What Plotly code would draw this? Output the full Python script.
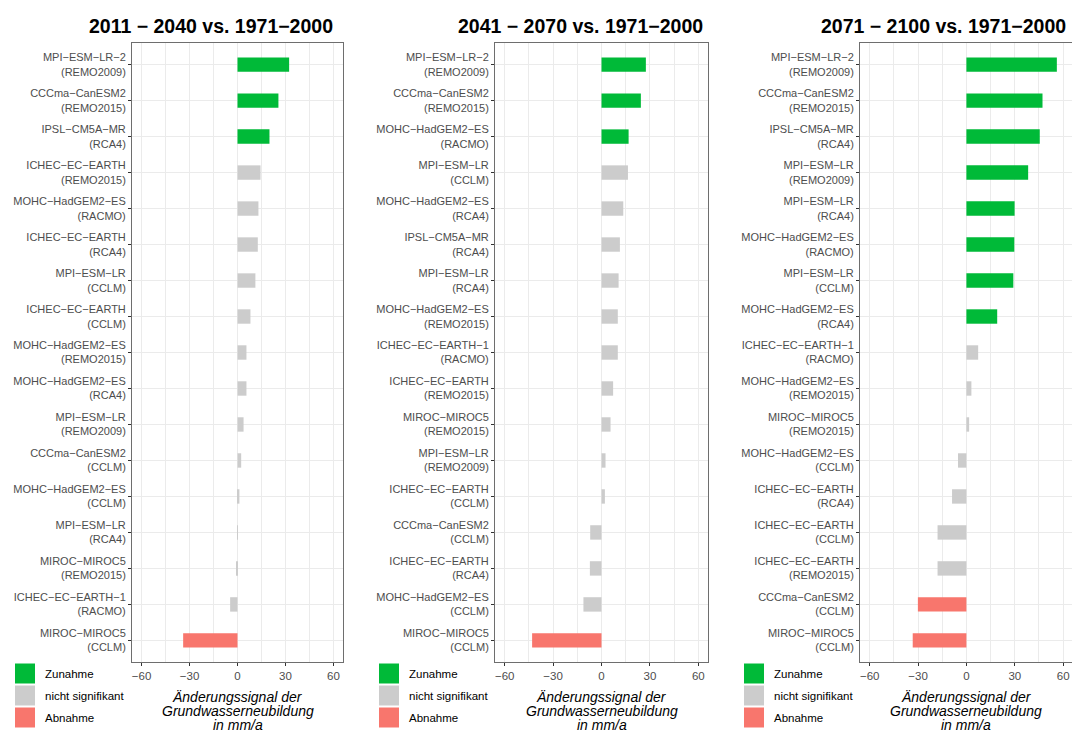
import plotly.graph_objects as go

# ---------------- data ----------------
titles = ["2011 − 2040 vs. 1971−2000", "2041 − 2070 vs. 1971−2000", "2071 − 2100 vs. 1971−2000"]

p1_labels = ["MPI-ESM-LR-2 (REMO2009)", "CCCma-CanESM2 (REMO2015)", "IPSL-CM5A-MR (RCA4)",
             "ICHEC-EC-EARTH (REMO2015)", "MOHC-HadGEM2-ES (RACMO)", "ICHEC-EC-EARTH (RCA4)",
             "MPI-ESM-LR (CCLM)", "ICHEC-EC-EARTH (CCLM)", "MOHC-HadGEM2-ES (REMO2015)",
             "MOHC-HadGEM2-ES (RCA4)", "MPI-ESM-LR (REMO2009)", "CCCma-CanESM2 (CCLM)",
             "MOHC-HadGEM2-ES (CCLM)", "MPI-ESM-LR (RCA4)", "MIROC-MIROC5 (REMO2015)",
             "ICHEC-EC-EARTH-1 (RACMO)", "MIROC-MIROC5 (CCLM)"]
p1_values = [32.3, 25.6, 20.0, 14.4, 13.1, 12.7, 11.2, 8.1, 5.6, 5.6, 3.8, 2.3, 1.2, 0.1, -0.6, -4.6, -34.0]
p1_signal = ["Z", "Z", "Z", "N", "N", "N", "N", "N", "N", "N", "N", "N", "N", "N", "N", "N", "A"]

p2_labels = ["MPI-ESM-LR-2 (REMO2009)", "CCCma-CanESM2 (REMO2015)", "MOHC-HadGEM2-ES (RACMO)",
             "MPI-ESM-LR (CCLM)", "MOHC-HadGEM2-ES (RCA4)", "IPSL-CM5A-MR (RCA4)",
             "MPI-ESM-LR (RCA4)", "MOHC-HadGEM2-ES (REMO2015)", "ICHEC-EC-EARTH-1 (RACMO)",
             "ICHEC-EC-EARTH (REMO2015)", "MIROC-MIROC5 (REMO2015)", "MPI-ESM-LR (REMO2009)",
             "ICHEC-EC-EARTH (CCLM)", "CCCma-CanESM2 (CCLM)", "ICHEC-EC-EARTH (RCA4)",
             "MOHC-HadGEM2-ES (CCLM)", "MIROC-MIROC5 (CCLM)"]
p2_values = [27.5, 24.4, 16.8, 16.4, 13.5, 11.4, 10.6, 10.1, 10.1, 7.2, 5.6, 2.5, 2.1, -7.0, -7.2, -11.2, -43.0]
p2_signal = ["Z", "Z", "Z", "N", "N", "N", "N", "N", "N", "N", "N", "N", "N", "N", "N", "N", "A"]

p3_labels = ["MPI-ESM-LR-2 (REMO2009)", "CCCma-CanESM2 (REMO2015)", "IPSL-CM5A-MR (RCA4)",
             "MPI-ESM-LR (REMO2009)", "MPI-ESM-LR (RCA4)", "MOHC-HadGEM2-ES (RACMO)",
             "MPI-ESM-LR (CCLM)", "MOHC-HadGEM2-ES (RCA4)", "ICHEC-EC-EARTH-1 (RACMO)",
             "MOHC-HadGEM2-ES (REMO2015)", "MIROC-MIROC5 (REMO2015)", "MOHC-HadGEM2-ES (CCLM)",
             "ICHEC-EC-EARTH (RCA4)", "ICHEC-EC-EARTH (CCLM)", "ICHEC-EC-EARTH (REMO2015)",
             "CCCma-CanESM2 (CCLM)", "MIROC-MIROC5 (CCLM)"]
p3_values = [56.1, 47.2, 45.5, 38.3, 29.9, 29.7, 29.1, 19.1, 7.3, 3.1, 1.7, -5.2, -8.9, -17.9, -17.9, -30.1, -33.3]
p3_signal = ["Z", "Z", "Z", "Z", "Z", "Z", "Z", "Z", "N", "N", "N", "N", "N", "N", "N", "A", "A"]

legend_keys = ["Z", "N", "A"]
legend_texts = ["Zunahme", "nicht signifikant", "Abnahme"]
x_ticks = [-60, -30, 0, 30, 60]
axis_title_lines = ["Änderungssignal der", "Grundwasserneubildung", "in mm/a"]

# ---------------- style ----------------
W, H = 1072, 733
COLORS = {"Z": "#00BA38", "N": "#CCCCCC", "A": "#F8766D"}
FONT = "Liberation Sans, Arial, sans-serif"
GRID = "#EBEBEB"
BORDER = "#6E6E6E"

panels = [(p1_labels, p1_values, p1_signal), (p2_labels, p2_values, p2_signal), (p3_labels, p3_values, p3_signal)]
x_px = [(132, 343), (495, 708), (860, 1072)]
x_ranges = [[-66, 66], [-66, 66], [-66, 65.5]]
legend_x = [15, 379, 744]
title_cx = [210.5, 580, 943.5]
y_top, y_bot = 43, 662


def fx(px):
    return px / W


def fy(py):
    return 1 - py / H


def disp(lbl):
    return lbl.replace("-", "\u2212").replace(" (", "<br>(")


fig = go.Figure()
layout = dict(
    width=W, height=H, margin=dict(l=0, r=0, t=0, b=0),
    paper_bgcolor="white", plot_bgcolor="white", showlegend=False,
    font=dict(family=FONT), bargap=0.6,
)
shapes, annotations = [], []

for i, (labels, values, signal) in enumerate(panels):
    k = "" if i == 0 else str(i + 1)
    cats = [disp(l) for l in labels]
    fig.add_trace(go.Bar(
        x=values, y=cats, orientation="h", width=0.4,
        marker=dict(color=[COLORS[s] for s in signal], line=dict(width=0)),
        xaxis="x" + k, yaxis="y" + k, hoverinfo="x+y",
    ))
    n = len(cats)
    layout["xaxis" + k] = dict(
        domain=[fx(x_px[i][0]), fx(x_px[i][1])], anchor="y" + k, range=x_ranges[i],
        tickmode="array", tickvals=x_ticks, ticktext=[str(t).replace("-", "\u2212") for t in x_ticks],
        showgrid=True, gridcolor=GRID, gridwidth=1.1, zeroline=False,
        minor=dict(tickmode="array", tickvals=[-45, -15, 15, 45], showgrid=True, gridcolor=GRID, gridwidth=0.6, ticks=""),
        showline=True, mirror=True, linecolor=BORDER, linewidth=1,
        ticks="outside", ticklen=3, tickcolor="#333333", tickwidth=1,
        tickfont=dict(family=FONT, size=11.5, color="#4D4D4D"),
    )
    layout["yaxis" + k] = dict(
        domain=[fy(y_bot), fy(y_top)], anchor="x" + k, type="category",
        categoryorder="array", categoryarray=cats, range=[n - 1 + 0.6, -0.6],
        showgrid=True, gridcolor=GRID, gridwidth=1.1, zeroline=False,
        showline=True, mirror=True, linecolor=BORDER, linewidth=1,
        ticks="outside", ticklen=3, tickcolor="#333333", tickwidth=1,
        tickfont=dict(family=FONT, size=11, color="#4D4D4D"),
    )
    # title
    annotations.append(dict(
        text="<b>" + titles[i] + "</b>", xref="paper", yref="paper",
        x=fx(title_cx[i]), y=fy(25.5), xanchor="center", yanchor="middle", showarrow=False,
        font=dict(family=FONT, size=19.5, color="black"),
    ))
    # axis title (three lines)
    cx = (x_px[i][0] + x_px[i][1]) / 2 if i < 2 else 966
    for j, line in enumerate(axis_title_lines):
        annotations.append(dict(
            text=line, xref="paper", yref="paper", x=fx(cx), y=fy(697 + 14.2 * j),
            xanchor="center", yanchor="middle", showarrow=False,
            font=dict(family=FONT, size=14, color="black", style="italic"),
        ))
    # legend
    for j, (key, txt) in enumerate(zip(legend_keys, legend_texts)):
        top = 663.5 + 22 * j
        shapes.append(dict(
            type="rect", xref="paper", yref="paper",
            x0=fx(legend_x[i]), x1=fx(legend_x[i] + 20), y0=fy(top + 20), y1=fy(top),
            fillcolor=COLORS[key], line=dict(width=0),
        ))
        annotations.append(dict(
            text=txt, xref="paper", yref="paper", x=fx(legend_x[i] + 28), y=fy(top + 10),
            xanchor="left", yanchor="middle", showarrow=False,
            font=dict(family=FONT, size=11.5, color="black"),
        ))

layout["shapes"] = shapes
layout["annotations"] = annotations
fig.update_layout(**layout)
fig.write_html(
    "out.html",
    config={"displayModeBar": False},
    post_script="document.body.style.margin='0';document.body.style.overflow='hidden';",
)
